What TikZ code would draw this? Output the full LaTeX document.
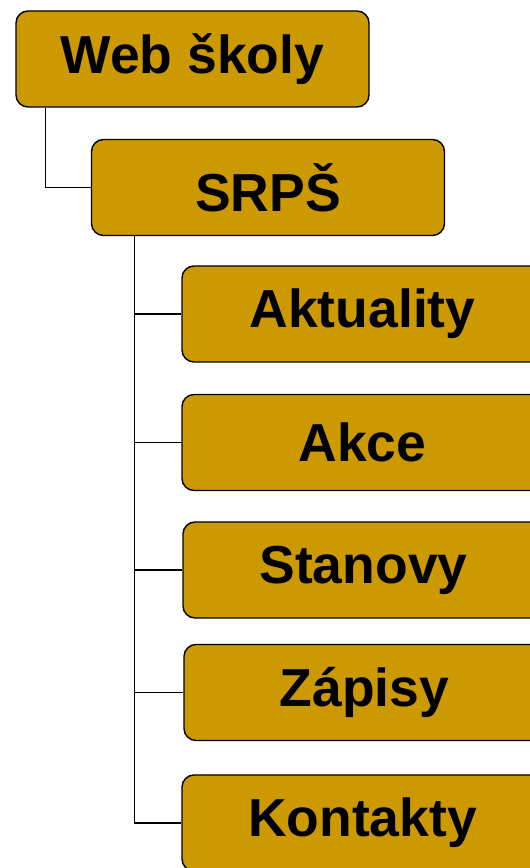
\documentclass[tikz,border=0pt]{standalone}
\usepackage{fontspec}
\setmainfont{Liberation Sans}
\definecolor{gold}{HTML}{CC9900}
\tikzset{
  box/.style={draw=black, line width=1.4pt, fill=gold, rounded corners=12pt,
    minimum width=353pt, minimum height=96pt, inner sep=0pt,
    font=\bfseries\fontsize{53.5}{60}\selectfont},
  sub/.style={box, minimum width=361pt},
  link/.style={line width=1.2pt}
}
\begin{document}
\begin{tikzpicture}[x=1pt,y=1pt]
    \useasboundingbox (0,0) rectangle (530,868);
    \clip (0,0) rectangle (530,868);

    \node[box] (web) at (192.5,809) {Web školy};
    \node[box] (srps) at (268,680.5) {SRPŠ};

    \node[sub] (akt) at (362.5,554) {Aktuality};
    \node[sub] (akce) at (362.5,425.5) {Akce};
    \node[sub] (stan) at (363.5,298) {Stanovy};
    \node[sub] (zap) at (364.5,175.5) {Zápisy};
    \node[sub] (kont) at (362.5,45) {Kontakty};

    \draw[link] ([xshift=30pt]web.south west) |- (srps.west);
    \foreach \n in {akt,akce,stan,zap,kont}
        \draw[link] ([xshift=44pt]srps.south west) |- (\n.west);

\end{tikzpicture}
\end{document}
